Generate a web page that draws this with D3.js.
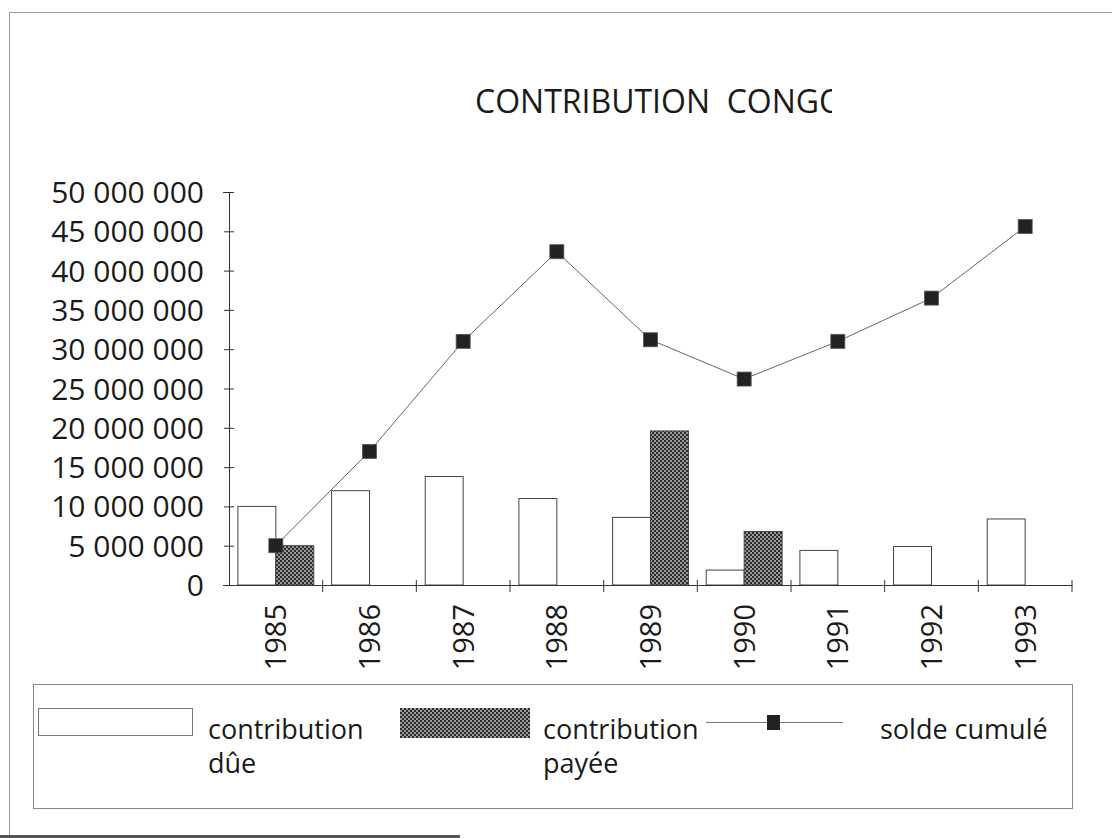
<!DOCTYPE html>
<html><head><meta charset="utf-8">
<script src="https://cdn.jsdelivr.net/npm/d3@7"></script>
<style>html,body{margin:0;padding:0;background:#fff;}svg{display:block;}</style>
</head><body>
<svg id="c" width="1112" height="838"></svg>
<script>
const years = ["1985","1986","1987","1988","1989","1990","1991","1992","1993"];
const contributionDue = [10000000,12000000,13800000,11000000,8600000,1900000,4400000,4900000,8400000];
const contributionPayee = [5000000,0,0,0,19600000,6800000,0,0,0];
const soldeCumule = [5000000,17000000,31000000,42400000,31200000,26200000,31000000,36500000,45600000];
const yTicks = [0,5000000,10000000,15000000,20000000,25000000,30000000,35000000,40000000,45000000,50000000];
const seriesNames = ["contribution dûe","contribution payée","solde cumulé"];

(function(){
const svg = d3.select("#c");
const font = "'Open Sans', sans-serif";
const ink = "#333";

const defs = svg.append("defs");
const pat = defs.append("pattern").attr("id","chk").attr("width",4).attr("height",4).attr("patternUnits","userSpaceOnUse");
pat.append("rect").attr("width",4).attr("height",4).attr("fill","#9a9a9a");
pat.append("rect").attr("width",2).attr("height",2).attr("fill","#2a2a2a");
pat.append("rect").attr("x",2).attr("y",2).attr("width",2).attr("height",2).attr("fill","#2a2a2a");
defs.append("clipPath").attr("id","tclip").append("rect").attr("x",0).attr("y",0).attr("width",832).attr("height",200);

// outer frame
svg.append("line").attr("x1",9.5).attr("x2",1112).attr("y1",12.5).attr("y2",12.5).attr("stroke","#999").attr("stroke-width",1);
svg.append("line").attr("x1",9.5).attr("x2",9.5).attr("y1",12.5).attr("y2",838).attr("stroke","#999").attr("stroke-width",1);
svg.append("line").attr("x1",0).attr("x2",460).attr("y1",836.5).attr("y2",836.5).attr("stroke","#555").attr("stroke-width",3);

// title
svg.append("text").attr("x",475).attr("y",113).attr("clip-path","url(#tclip)").attr("xml:space","preserve")
  .attr("font-family",font).attr("font-size",32).attr("fill","#1a1a1a").text("CONTRIBUTION  CONGO");

const pl = 229, pr = 1072, pt = 192, pb = 585;
const x = d3.scaleBand().domain(years).range([pl,pr]).padding(0);
const bw = x.bandwidth();
const xs = d3.scaleBand().domain([0,1]).range([bw*0.095, bw*0.905]).padding(0);
const y = d3.scaleLinear().domain([0,50000000]).range([pb,pt]);
const fmt = v => d3.format(",")(v).replace(/,/g," ");

// y axis
const ya = svg.append("g").attr("transform",`translate(${pl},0)`)
  .call(d3.axisLeft(y).tickValues(yTicks).tickFormat(fmt).tickSize(6).tickPadding(12));
ya.select(".domain").attr("stroke",ink);
ya.selectAll(".tick line").attr("stroke",ink).attr("x2",5).attr("x1",-5);
ya.selectAll(".tick text").attr("font-family",font).attr("font-size",30).attr("fill","#1a1a1a").attr("dy","0.35em").attr("x",-25);

// bars
const g = svg.append("g");
years.forEach((yr,i) => {
  g.append("rect").attr("x",x(yr)+xs(0)).attr("y",y(contributionDue[i])).attr("width",xs.bandwidth())
    .attr("height",y(0)-y(contributionDue[i])).attr("fill","#fff").attr("stroke","#444").attr("stroke-width",1);
  if (contributionPayee[i] > 0)
    g.append("rect").attr("x",x(yr)+xs(1)).attr("y",y(contributionPayee[i])).attr("width",xs.bandwidth())
      .attr("height",y(0)-y(contributionPayee[i])).attr("fill","url(#chk)").attr("stroke","#444").attr("stroke-width",1);
});

// x axis
const xa = svg.append("g").attr("transform",`translate(0,${pb})`)
  .call(d3.axisBottom(x).tickSize(0).tickPadding(0));
xa.select(".domain").attr("stroke",ink);
xa.selectAll(".tick text").attr("font-family",font).attr("font-size",29).attr("fill","#1a1a1a")
  .attr("transform","rotate(-90)").attr("text-anchor","end").attr("x",-19).attr("y",0).attr("dy","0.36em");
const bounds = years.map(yr => x(yr)).concat([pr]).slice(1);
svg.append("g").selectAll("line").data(bounds).join("line")
  .attr("x1",d=>d).attr("x2",d=>d).attr("y1",pb-5).attr("y2",pb+7).attr("stroke",ink);

// line
const line = d3.line().x((d,i)=>x(years[i])+bw/2).y(d=>y(d));
svg.append("path").datum(soldeCumule).attr("d",line).attr("fill","none").attr("stroke","#666").attr("stroke-width",1);
svg.append("g").selectAll("rect").data(soldeCumule).join("rect")
  .attr("x",(d,i)=>x(years[i])+bw/2-7).attr("y",d=>y(d)-7).attr("width",14).attr("height",14)
  .attr("fill","#222").attr("stroke","#555").attr("stroke-width",0.8);

// legend
svg.append("rect").attr("x",33.5).attr("y",684.5).attr("width",1039).attr("height",124).attr("fill","none").attr("stroke","#888");
const lg = svg.append("g").attr("font-family",font).attr("font-size",27).attr("fill","#1a1a1a");
lg.append("rect").attr("x",38.5).attr("y",708.5).attr("width",154).attr("height",27).attr("fill","#fff").attr("stroke","#777");
lg.append("text").attr("x",208).attr("y",739).text("contribution");
lg.append("text").attr("x",208).attr("y",773).text("dûe");
lg.append("rect").attr("x",400).attr("y",708).attr("width",130).attr("height",30).attr("fill","url(#chk)");
lg.append("text").attr("x",543).attr("y",739).text("contribution");
lg.append("text").attr("x",543).attr("y",773).text("payée");
lg.append("line").attr("x1",706).attr("x2",843).attr("y1",722.5).attr("y2",722.5).attr("stroke","#777");
lg.append("rect").attr("x",767).attr("y",715).attr("width",13).attr("height",15).attr("fill","#222");
lg.append("text").attr("x",880).attr("y",739).text("solde cumulé");
})();
</script>
</body></html>
